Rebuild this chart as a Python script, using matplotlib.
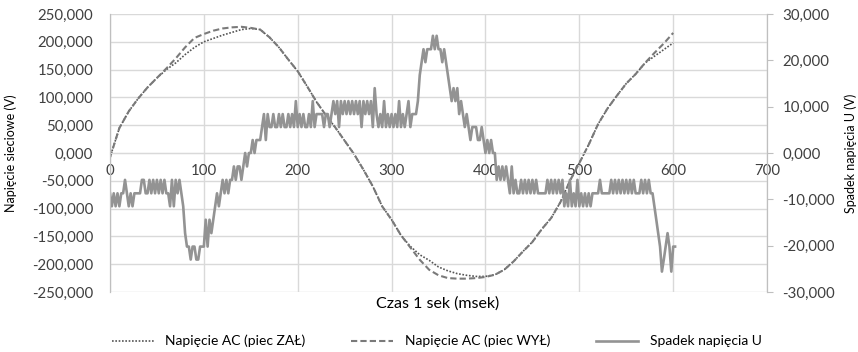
import numpy as np
import matplotlib
matplotlib.use("Agg")
import matplotlib.pyplot as plt
from matplotlib.ticker import FuncFormatter, MultipleLocator

plt.rcParams['font.family'] = ['Lato', 'DejaVu Sans']

# --- data ---
t_ac = np.arange(0, 610, 10)  # msek
ac_zal = [-8, 45, 75, 98, 118, 135, 150, 162, 177, 190,
          200, 206, 212, 217, 222, 224, 222, 208, 190, 168,
          147, 120, 92, 68, 46, 22, -2, -30, -60, -96,
          -120, -148, -168, -183, -193, -205, -212, -217, -220, -222,
          -222, -219, -210, -195, -177, -160, -137, -117, -88, -50,
          -18, 15, 52, 80, 103, 125, 142, 162, 174, 186,
          198]
ac_wyl = [-8, 45, 75, 98, 118, 135, 152, 170, 190, 207,
          214, 220, 224, 226, 227, 225, 222, 208, 190, 168,
          147, 120, 92, 68, 46, 22, -2, -30, -60, -96,
          -120, -148, -170, -192, -210, -220, -225, -226, -226, -225,
          -223, -219, -210, -195, -177, -160, -137, -117, -88, -50,
          -18, 15, 52, 80, 103, 125, 142, 162, 180, 197,
          216]

t_u = np.arange(0, 604, 2)  # msek
spadek_u = [
    -8.7, -11.5, -8.7, -11.5, -8.7, -11.5, -8.7, -8.7, -5.8, -8.7, -11.5, -8.7, -11.5,
    -8.7, -8.7, -8.7, -8.7, -5.8, -5.8, -8.7, -8.7, -5.8, -8.7, -5.8, -8.7,
    -5.8, -8.7, -5.8, -8.7, -5.8, -8.7, -8.7, -11.5, -5.8, -11.5, -5.8, -8.7, -5.8,
    -8.7, -11.5, -17.3, -20.2, -20.2, -23.0, -20.2, -20.2, -23.0, -23.0, -20.2, -20.2,
    -20.2, -14.4, -20.2, -14.4, -17.3, -14.4, -11.5, -8.7, -11.5, -8.7, -5.8, -8.7, -5.8,
    -8.7, -5.8, -5.8, -2.9, -5.8, -2.9, -2.9, -5.8, -2.9, 0.0, -2.9, 0.0,
    0.0, 2.8, 0.0, 2.8, 2.8, 2.8, 5.6, 8.4, 2.8, 8.4, 5.6, 5.6, 8.4,
    5.6, 5.6, 8.4, 5.6, 8.4, 5.6, 5.6, 8.4, 5.6, 8.4, 5.6, 11.2,
    5.6, 8.4, 5.6, 8.4, 5.6, 5.6, 8.4, 5.6, 11.2, 5.6, 8.4, 8.4, 8.4,
    8.4, 5.6, 8.4, 8.4, 5.6, 8.4, 11.2, 8.4, 11.2, 5.6, 11.2, 8.4,
    11.2, 8.4, 11.2, 8.4, 11.2, 8.4, 11.2, 8.4, 11.2, 5.6, 11.2, 8.4, 11.2,
    8.4, 11.2, 5.6, 14.0, 8.4, 5.6, 8.4, 5.6, 11.2, 5.6, 8.4, 5.6,
    8.4, 5.6, 8.4, 5.6, 11.2, 5.6, 8.4, 5.6, 8.4, 11.2, 5.6, 8.4, 8.4,
    8.4, 11.2, 16.8, 19.6, 22.4, 19.6, 22.4, 22.4, 22.4, 25.3, 22.4, 25.3,
    22.4, 22.4, 19.6, 22.4, 19.6, 16.8, 14.0, 11.2, 14.0, 11.2, 14.0, 8.4, 11.2,
    8.4, 5.6, 8.4, 5.6, 2.8, 5.6, 5.6, 5.6, 2.8, 2.8, 5.6, 2.8,
    0.0, 2.8, 0.0, 2.8, 0.0, 0.0, -5.8, -2.9, -5.8, -2.9, -5.8, -2.9, -5.8,
    -8.7, -2.9, -8.7, -5.8, -8.7, -8.7, -5.8, -8.7, -5.8, -8.7, -5.8, -8.7,
    -5.8, -8.7, -5.8, -8.7, -8.7, -8.7, -8.7, -8.7, -5.8, -8.7, -5.8, -8.7, -5.8,
    -8.7, -5.8, -8.7, -5.8, -11.5, -8.7, -11.5, -5.8, -11.5, -8.7, -11.5, -5.8,
    -11.5, -8.7, -11.5, -8.7, -11.5, -8.7, -11.5, -8.7, -8.7, -8.7, -8.7, -5.8, -8.7,
    -8.7, -8.7, -8.7, -8.7, -5.8, -8.7, -5.8, -8.7, -5.8, -8.7, -5.8, -8.7,
    -5.8, -8.7, -5.8, -8.7, -5.8, -8.7, -8.7, -8.7, -5.8, -8.7, -5.8, -8.7, -5.8,
    -8.7, -8.7, -11.5, -14.4, -17.3, -20.2, -25.6, -23.0, -20.2, -17.3, -20.2, -25.6,
    -20.2, -20.2,
]

label_zal = 'Napięcie AC (piec ZAŁ)'
label_wyl = 'Napięcie AC (piec WYŁ)'
label_u = 'Spadek napięcia U'

grid_c = '#d9d9d9'
text_c = '#404040'


def pl_fmt(v, pos):
    # Polish decimal comma, 3 decimals
    return f"{v:.3f}".replace('.', ',')


fig = plt.figure(figsize=(8.58, 3.52), dpi=100)
ax = fig.add_axes([0.1282, 0.1705, 0.894 - 0.1282, 0.9602 - 0.1705])
ax2 = ax.twinx()

ax.plot(t_ac, ac_zal, color='#555555', lw=1.2, ls=(0, (1, 1)), label=label_zal)
ax.plot(t_ac, ac_wyl, color='#7a7a7a', lw=1.5, ls=(0, (3, 1.5)), label=label_wyl)
ax2.plot(t_u, spadek_u, color='#939393', lw=1.9, label=label_u)

ax.set_xlim(0, 700)
ax.set_ylim(-250, 250)
ax2.set_ylim(-30, 30)
ax.xaxis.set_major_locator(MultipleLocator(100))
ax.yaxis.set_major_locator(MultipleLocator(50))
ax2.yaxis.set_major_locator(MultipleLocator(10))
ax.yaxis.set_major_formatter(FuncFormatter(pl_fmt))
ax2.yaxis.set_major_formatter(FuncFormatter(pl_fmt))

ax.grid(True, color=grid_c, lw=1.0)
ax.set_axisbelow(True)

# x axis crosses at zero, like the spreadsheet chart
ax.spines['bottom'].set_position(('data', 0))
ax.spines['bottom'].set_color(grid_c)
for a in (ax, ax2):
    a.spines['top'].set_visible(False)
    a.spines['left'].set_color('#bfbfbf')
    a.spines['right'].set_color('#bfbfbf')
ax2.spines['bottom'].set_visible(False)

ax.tick_params(axis='x', length=0, pad=8, labelsize=10.8, labelcolor=text_c)
ax.tick_params(axis='y', length=0, pad=12, labelsize=10.8, labelcolor=text_c)
ax2.tick_params(axis='y', length=4, color='#bfbfbf', pad=7, labelsize=10.8,
                labelcolor=text_c)

ax.set_ylabel('Napięcie sieciowe (V)', fontsize=9, color='black')
ax.yaxis.set_label_coords(-0.142, 0.5)
ax2.set_ylabel('Spadek napięcia U (V)', fontsize=9, color='black')
ax2.yaxis.set_label_coords(1.118, 0.5)
fig.text(0.51, 0.137, 'Czas 1 sek (msek)', ha='center', va='center',
         fontsize=11.5, color='black')

h1, l1 = ax.get_legend_handles_labels()
h2, l2 = ax2.get_legend_handles_labels()
fig.legend(h1 + h2, l1 + l2, loc='center', bbox_to_anchor=(0.509, 0.031),
           ncol=3, frameon=False, fontsize=10, handlelength=3.0,
           columnspacing=3.3, handletextpad=0.85)

fig.savefig('out.png', dpi=100)
